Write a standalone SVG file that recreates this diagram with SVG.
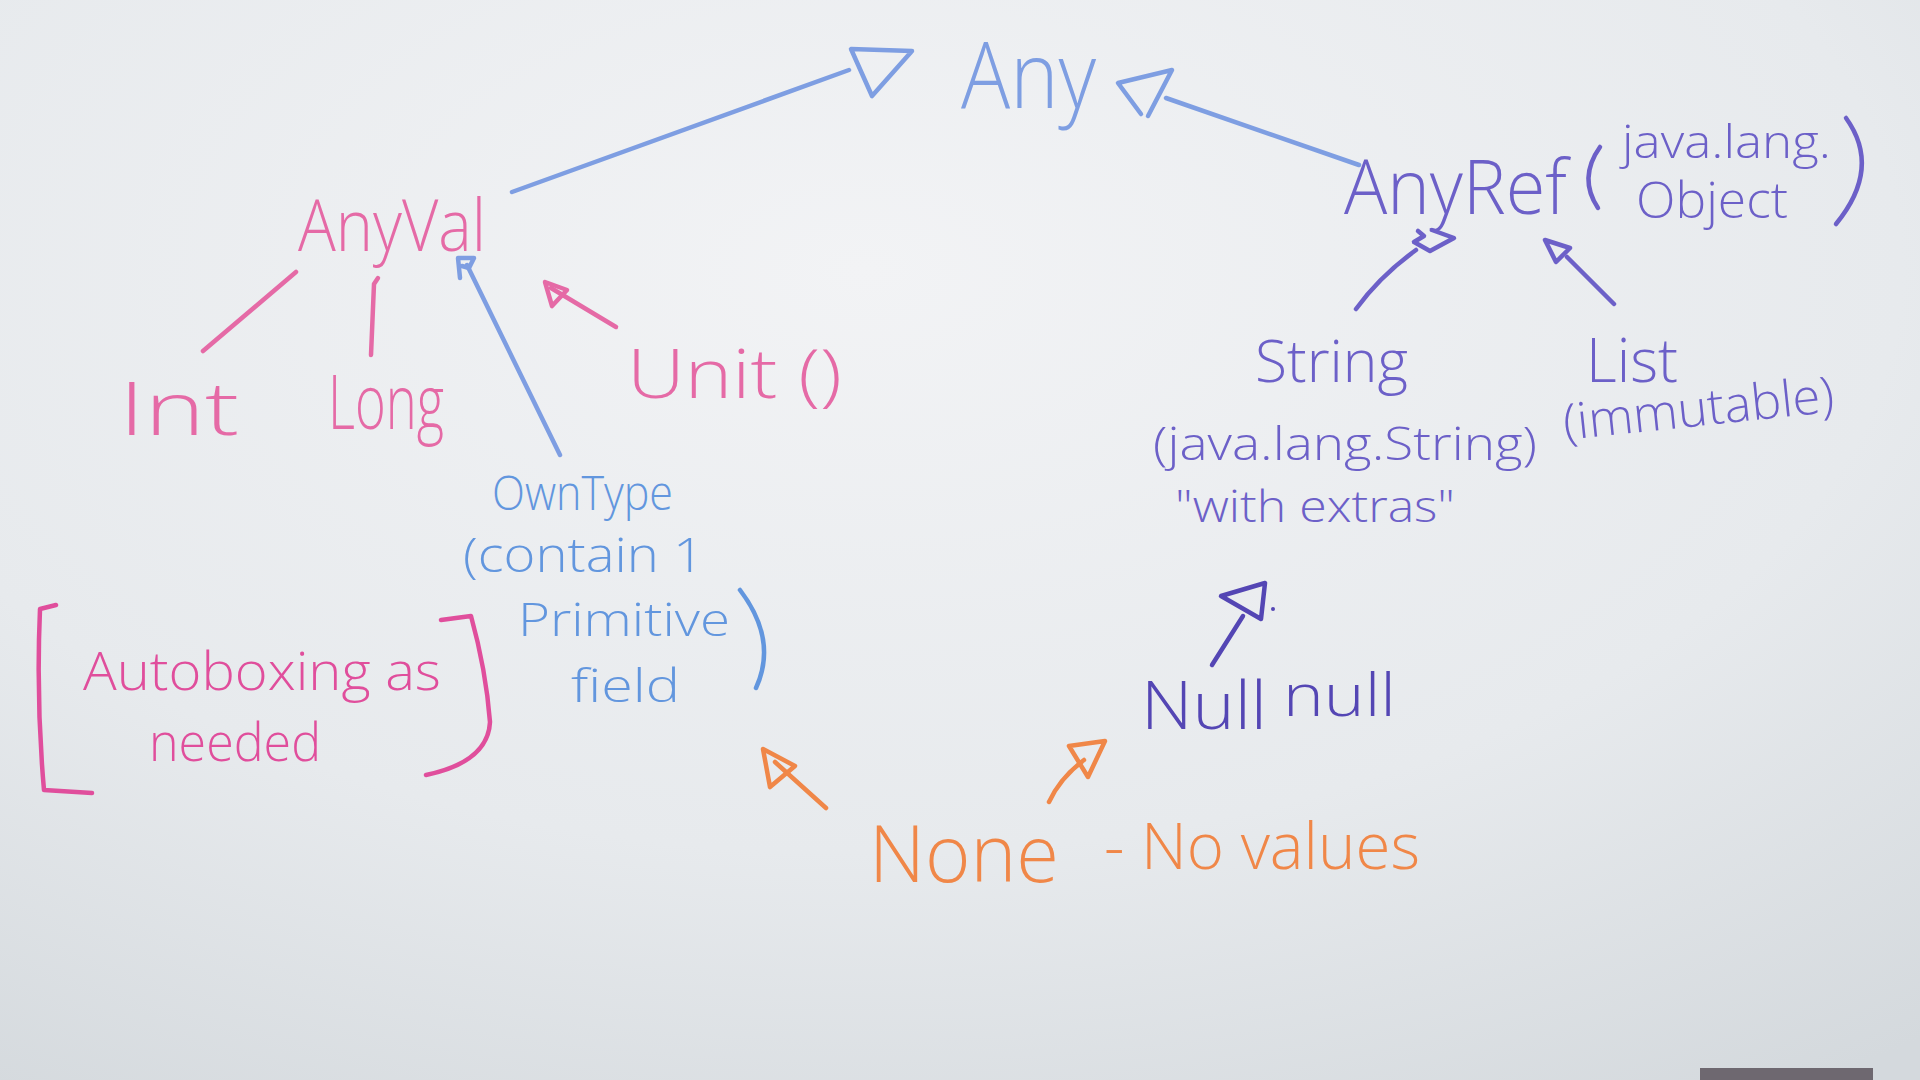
<svg xmlns="http://www.w3.org/2000/svg" width="1920" height="1080" viewBox="0 0 1920 1080">
<defs>
<radialGradient id="bg" cx="0.45" cy="0.25" r="0.9">
<stop offset="0" stop-color="#f2f3f5"/>
<stop offset="0.6" stop-color="#e7eaed"/>
<stop offset="1" stop-color="#d4d9dd"/>
</radialGradient>
<style>
text{font-family:"Open Sans","Liberation Sans",sans-serif;font-weight:300}
.s{fill:none;stroke-width:4.5;stroke-linecap:round;stroke-linejoin:round}
.blue{fill:#7e9ee2}
.sblue{stroke:#7e9ee2}
.pink{fill:#e56aa6}
.spink{stroke:#e56aa6}
.mag{fill:#e04e9c}
.smag{stroke:#e04e9c}
.own{fill:#6296de}
.sown{stroke:#6296de}
.purp{fill:#6c60c8}
.spurp{stroke:#6c60c8}
.dpurp{fill:#5446b4}
.sdpurp{stroke:#5446b4}
.org{fill:#f08748}
.sorg{stroke:#f08748}
</style>
</defs>
<rect width="1920" height="1080" fill="url(#bg)"/>
<rect x="1700" y="1068" width="173" height="14" fill="#6e6870"/>

<g id="connectors">
<!-- Any <- AnyVal -->
<line class="s sblue" x1="512" y1="192" x2="849" y2="70"/>
<polygon class="s sblue" points="851,49 912,51 872,96"/>
<!-- Any <- AnyRef -->
<line class="s sblue" x1="1166" y1="98" x2="1359" y2="165"/>
<path class="s sblue" d="M1141,114 L1118,83 L1172,70 L1148,116"/>
<!-- AnyVal <- Int, Long -->
<line class="s spink" x1="296" y1="272" x2="203" y2="351"/>
<path class="s spink" d="M378,278 L374,284 L371,355"/>
<!-- AnyVal <- Unit -->
<line class="s spink" x1="616" y1="327" x2="551" y2="288"/>
<polygon class="s spink" points="545,282 567,290 552,306"/>
<!-- AnyVal <- OwnType -->
<line class="s sblue" x1="560" y1="455" x2="467" y2="265"/>
<path class="s sblue" d="M460,278 L458,258 L474,258 L469,268 L462,266"/>
<!-- AnyRef <- String -->
<path class="s spurp" d="M1356,309 Q1380,276 1416,250"/>
<path class="s spurp" d="M1418,231 L1424,236 L1414,242 L1430,251 L1454,238 L1432,230"/>
<!-- AnyRef <- List -->
<line class="s spurp" x1="1614" y1="304" x2="1567" y2="257"/>
<path class="s spurp" d="M1556,262 L1545,240 L1570,248 L1556,262 Z"/>
<!-- String <- Null -->
<line class="s sdpurp" x1="1212" y1="665" x2="1243" y2="616"/>
<polygon class="s sdpurp" points="1221,596 1265,583 1261,619"/>
<circle cx="1273" cy="609" r="2" class="dpurp"/>
<!-- None -> OwnType / Null -->
<line class="s sorg" x1="826" y1="808" x2="775" y2="762"/>
<polygon class="s sorg" points="763,749 795,766 770,787"/>
<path class="s sorg" d="M1049,802 Q1060,778 1084,760"/>
<polygon class="s sorg" points="1069,746 1105,741 1088,777"/>
</g>

<g id="node-any">
<text x="961" y="108" font-size="92" class="blue" textLength="135" lengthAdjust="spacingAndGlyphs">Any</text>
</g>

<g id="node-anyval">
<text x="298" y="251" font-size="72" class="pink" textLength="188" lengthAdjust="spacingAndGlyphs">AnyVal</text>
</g>

<g id="node-int">
<text x="119" y="435" font-size="74" class="pink" textLength="120" lengthAdjust="spacingAndGlyphs">Int</text>
</g>

<g id="node-long">
<text x="328" y="429" font-size="76" class="pink" textLength="116" lengthAdjust="spacingAndGlyphs">Long</text>
</g>

<g id="node-unit">
<text x="627" y="398" font-size="68" class="pink" textLength="215" lengthAdjust="spacingAndGlyphs">Unit ()</text>
</g>

<g id="node-owntype">
<text x="492" y="510" font-size="48" class="own" textLength="181" lengthAdjust="spacingAndGlyphs">OwnType</text>
<text x="463" y="572" font-size="48" class="own" textLength="241" lengthAdjust="spacingAndGlyphs">(contain 1</text>
<text x="518" y="636" font-size="46" class="own" textLength="212" lengthAdjust="spacingAndGlyphs">Primitive</text>
<text x="571" y="702" font-size="46" class="own" textLength="109" lengthAdjust="spacingAndGlyphs">field</text>
<path class="s sown" d="M740,590 Q778,640 756,688"/>
</g>

<g id="node-autoboxing">
<path class="s smag" d="M56,605 L40,609 Q36,700 44,790 L92,793"/>
<path class="s smag" d="M441,620 L471,616 Q486,670 490,722 Q488,762 426,775"/>
<text x="83" y="690" font-size="54" class="mag" textLength="358" lengthAdjust="spacingAndGlyphs">Autoboxing as</text>
<text x="149" y="761" font-size="54" class="mag" textLength="172" lengthAdjust="spacingAndGlyphs">needed</text>
</g>

<g id="node-anyref">
<text x="1344" y="214" font-size="76" class="purp" textLength="223" lengthAdjust="spacingAndGlyphs">AnyRef</text>
<path class="s spurp" d="M1600,147 Q1578,178 1598,208"/>
<text x="1622" y="158" font-size="46" class="purp" textLength="209" lengthAdjust="spacingAndGlyphs">java.lang.</text>
<text x="1636" y="218" font-size="50" class="purp" textLength="152" lengthAdjust="spacingAndGlyphs">Object</text>
<path class="s spurp" d="M1846,118 Q1882,168 1836,224"/>
</g>

<g id="node-string">
<text x="1255" y="382" font-size="58" class="purp" textLength="153" lengthAdjust="spacingAndGlyphs">String</text>
<text x="1153" y="460" font-size="46" class="purp" textLength="384" lengthAdjust="spacingAndGlyphs">(java.lang.String)</text>
<text x="1175" y="522" font-size="44" class="purp" textLength="280" lengthAdjust="spacingAndGlyphs">"with extras"</text>
</g>

<g id="node-list">
<text x="1586" y="382" font-size="60" class="purp" textLength="92" lengthAdjust="spacingAndGlyphs">List</text>
<text x="1565" y="440" font-size="50" class="purp" textLength="272" lengthAdjust="spacingAndGlyphs" transform="rotate(-6 1565 440)">(immutable)</text>
</g>

<g id="node-null">
<text x="1141" y="729" font-size="66" class="dpurp" textLength="126" lengthAdjust="spacingAndGlyphs">Null</text>
<text x="1283" y="716" font-size="58" class="dpurp" textLength="113" lengthAdjust="spacingAndGlyphs">null</text>
</g>

<g id="node-none">
<text x="869" y="882" font-size="80" class="org" textLength="190" lengthAdjust="spacingAndGlyphs">None</text>
<text x="1104" y="869" font-size="64" class="org" textLength="316" lengthAdjust="spacingAndGlyphs">- No values</text>
</g>
</svg>
